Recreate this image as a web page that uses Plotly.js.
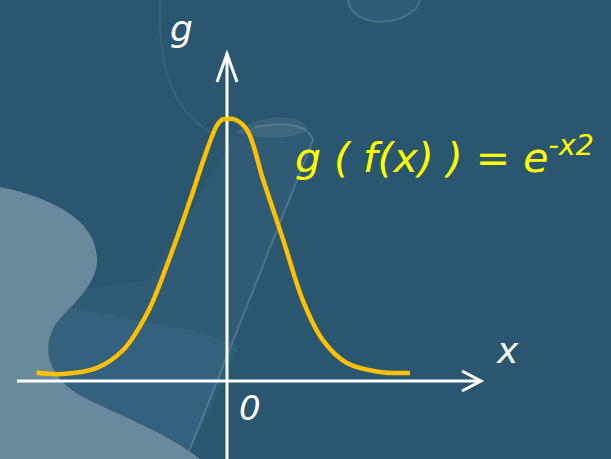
<!DOCTYPE html>
<html>
<head>
<meta charset="utf-8">
<script src="https://cdn.plot.ly/plotly-3.0.1.min.js"></script>
<style>
html,body{margin:0;padding:0;background:#2a5670;}
#chart{width:611px;height:459px;}
</style>
</head>
<body>
<div id="chart"></div>
<script>
// Curve values: x in axis units, g = e^(-x^2)
const curveX = [-2.84, -2.45, -1.94, -1.55, -1.19, -0.85, -0.55, -0.30, -0.15, -0.07, 0.0, 0.12, 0.30, 0.54, 0.84, 1.13, 1.43, 1.79, 2.28, 2.73];
const curveY = [0.005, 0.0, 0.024, 0.094, 0.239, 0.459, 0.682, 0.878, 0.975, 0.998, 1.0, 0.998, 0.957, 0.761, 0.525, 0.290, 0.133, 0.043, 0.008, 0.004];

// Text labels
const xLabel = 'x';
const yLabel = 'g';
const originLabel = '0';
const formulaLabel = 'g ( f(x) ) = e<sup>-x2</sup>';

// Axis ranges (units)
const xRange = [-3.388, 5.731];
const yRange = [-0.3333, 1.4667];

// pixel -> data helpers for decoration / axis placement
const W = 611, H = 459;
const X = px => xRange[0] + (px / W) * (xRange[1] - xRange[0]);
const Y = py => yRange[1] - (py / H) * (yRange[1] - yRange[0]);
const P = (px, py) => (px / W).toFixed(4) + ',' + (1 - py / H).toFixed(4);

const white = '#ffffff';
const shapes = [
  // translucent diagonal panel
  {type:'path', xref:'paper', yref:'paper', layer:'below',
   path:'M ' + P(0,300) + ' L ' + P(150,280) + ' L ' + P(238,130) + ' Q ' + P(305,120) + ' ' + P(314,138) + ' L ' + P(186,459) + ' L ' + P(0,459) + ' Z',
   fillcolor:'rgba(110,170,200,0.07)', line:{width:0}},
  // lighter band along the blob
  {type:'path', xref:'paper', yref:'paper', layer:'below',
   path:'M ' + P(0,300) + ' C ' + P(60,300) + ' ' + P(120,320) + ' ' + P(190,330) + ' L ' + P(240,345) + ' L ' + P(186,459) + ' L ' + P(0,459) + ' Z',
   fillcolor:'rgba(90,160,195,0.10)', line:{width:0}},
  // panel edge highlight
  {type:'path', xref:'paper', yref:'paper', layer:'below',
   path:'M ' + P(255,127) + ' Q ' + P(306,118) + ' ' + P(313,140) + ' L ' + P(186,459),
   line:{color:'rgba(190,220,235,0.22)', width:2}},
  // grey blob under peak
  {type:'path', xref:'paper', yref:'paper', layer:'below',
   path:'M ' + P(236,132) + ' C ' + P(260,114) + ' ' + P(300,112) + ' ' + P(308,128) + ' C ' + P(300,140) + ' ' + P(260,140) + ' ' + P(236,132) + ' Z',
   fillcolor:'rgba(140,165,180,0.18)', line:{width:0}},
  // light grey blob lower-left
  {type:'path', xref:'paper', yref:'paper', layer:'below',
   path:'M ' + P(0,187) + ' C ' + P(40,195) + ' ' + P(95,215) + ' ' + P(97,257) + ' C ' + P(99,285) + ' ' + P(70,305) + ' ' + P(55,325) + ' C ' + P(40,350) + ' ' + P(50,380) + ' ' + P(85,398) + ' C ' + P(125,418) + ' ' + P(165,432) + ' ' + P(200,459) + ' L ' + P(0,459) + ' Z',
   fillcolor:'#6a8a9b', line:{width:0}},
  // faint ring around g
  {type:'path', xref:'paper', yref:'paper', layer:'below',
   path:'M ' + P(160,0) + ' C ' + P(158,60) + ' ' + P(168,110) + ' ' + P(215,135),
   line:{color:'rgba(200,225,240,0.10)', width:2}},
  // faint circle at top
  {type:'path', xref:'paper', yref:'paper', layer:'below',
   path:'M ' + P(348,0) + ' C ' + P(350,18) + ' ' + P(372,24) + ' ' + P(390,21) + ' C ' + P(406,18) + ' ' + P(418,10) + ' ' + P(420,0),
   fillcolor:'rgba(120,160,185,0.08)', line:{color:'rgba(200,225,240,0.18)', width:2}},
  // x axis line + arrow
  {type:'line', xref:'x', yref:'y', x0:X(17), x1:X(481), y0:Y(381), y1:Y(381), line:{color:white, width:3}, layer:'below'},
  {type:'path', xref:'paper', yref:'paper', layer:'below',
   path:'M ' + P(462,371) + ' L ' + P(481,381) + ' L ' + P(462,391),
   line:{color:white, width:3}},
  // y axis line + arrow
  {type:'line', xref:'x', yref:'y', x0:X(227), x1:X(227), y0:Y(459), y1:Y(53), line:{color:white, width:3}, layer:'below'},
  {type:'path', xref:'paper', yref:'paper', layer:'below',
   path:'M ' + P(217,82) + ' L ' + P(227,54) + ' L ' + P(237,82),
   line:{color:white, width:3}}
];

const fontFam = '"DejaVu Sans", "Noto Sans", sans-serif';
const annotations = [
  {xref:'paper', yref:'paper', x:181/W, y:1-28/H, text:'<i>'+yLabel+'</i>', showarrow:false, font:{family:fontFam, size:36, color:white}, xanchor:'center', yanchor:'middle'},
  {xref:'paper', yref:'paper', x:508/W, y:1-350/H, text:'<i>'+xLabel+'</i>', showarrow:false, font:{family:fontFam, size:36, color:white}, xanchor:'center', yanchor:'middle'},
  {xref:'paper', yref:'paper', x:250/W, y:1-408/H, text:'<i>'+originLabel+'</i>', showarrow:false, font:{family:fontFam, size:34, color:white}, xanchor:'center', yanchor:'middle'},
  {xref:'paper', yref:'paper', x:293/W, y:1-155/H, text:'<i>'+formulaLabel+'</i>', showarrow:false, font:{family:fontFam, size:41, color:'#ffff00'}, xanchor:'left', yanchor:'middle'}
];

const traces = [
  {x:curveX, y:curveY, type:'scatter', mode:'lines', line:{color:'#ffc000', width:4.5, shape:'spline', smoothing:1}, hoverinfo:'skip'}
];

const layout = {
  width:W, height:H,
  margin:{l:0, r:0, t:0, b:0, pad:0},
  paper_bgcolor:'#2a5670', plot_bgcolor:'rgba(0,0,0,0)',
  showlegend:false,
  xaxis:{range:xRange, visible:false, fixedrange:true},
  yaxis:{range:yRange, visible:false, fixedrange:true},
  shapes:shapes,
  annotations:annotations
};

Plotly.newPlot('chart', traces, layout, {displayModeBar:false, staticPlot:true});
</script>
</body>
</html>
